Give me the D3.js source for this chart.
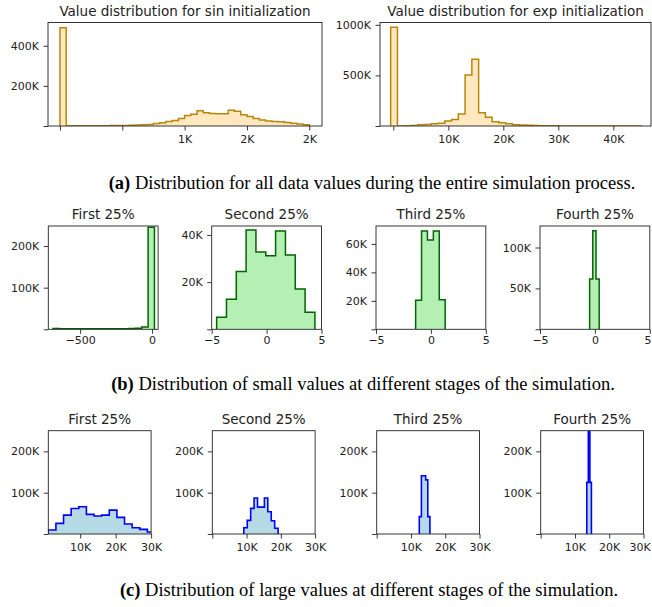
<!DOCTYPE html>
<html>
<head>
<meta charset="utf-8">
<script src="https://cdn.jsdelivr.net/npm/d3@7"></script>
<style>
  body { margin: 0; background: #fff; }
  svg text { font-family: "DejaVu Sans", sans-serif; fill: #222; }
  .caption { font-family: "Liberation Serif", serif; font-size: 18.5px; fill: #000; }
</style>
</head>
<body>
<svg id="fig" width="652" height="607"></svg>
<script>
// (a) all values over the whole run: bin start, bin width, counts
const sinStart = 0, sinWidth = 50;
const sinCounts = [490e3, 1e3, 1e3, 1e3, 1e3, 1e3, 1e3, 1e3, 2e3, 3e3, 3e3, 4e3, 5e3, 6e3, 8e3, 12e3,
  16e3, 22e3, 28e3, 38e3, 52e3, 58e3, 76e3, 66e3, 62e3, 61e3, 61e3, 78e3, 73e3, 56e3, 47e3, 38e3,
  30e3, 25e3, 23e3, 21e3, 17e3, 14e3, 10e3, 6e3];
const expStart = -480, expWidth = 1230;
const expCounts = [975e3, 1e3, 3e3, 6e3, 12e3, 16e3, 22e3, 28e3, 50e3, 65e3, 118e3, 505e3, 660e3,
  132e3, 86e3, 43e3, 33e3, 23e3, 13e3, 10e3, 7e3, 6e3, 3e3, 2e3, 2e3, 1e3, 1e3, 1e3, 1e3, 1e3,
  1e3, 1e3, 1e3, 1e3, 1e3, 1e3, 1e3];

// (b) small values, per quarter of the run
const stages = ["First 25%", "Second 25%", "Third 25%", "Fourth 25%"];
const smallStart = [-689, -4.55, -1.39, -0.48];
const smallWidth = [44.1, 0.895, 0.538, 0.29];
const smallCounts = [
  [2e3, 1.5e3, 1.5e3, 1.5e3, 1.5e3, 1.5e3, 1.5e3, 1.5e3, 1.5e3, 1.5e3, 1.5e3, 1.5e3, 2e3, 2.5e3, 5.5e3, 245e3],
  [5.1e3, 12.7e3, 24.5e3, 42.1e3, 32.8e3, 31.2e3, 41.7e3, 31.5e3, 17.1e3, 7.2e3],
  [20.5e3, 69e3, 62.8e3, 69e3, 20.7e3],
  [61.5e3, 120.6e3, 61.5e3]
];
const smallXlim = [[-721, 42], [-5, 5], [-5, 5], [-5, 5]];
const smallYmax = [248e3, 43.8e3, 72.6e3, 126.3e3];
const smallXticks = [[-500, 0], [-5, 0, 5], [-5, 0, 5], [-5, 0, 5]];
const smallYticks = [[0, 100e3, 200e3], [0, 20e3, 40e3], [0, 20e3, 40e3, 60e3], [0, 50e3, 100e3]];

// (c) large values, per quarter of the run
const largeStart = [1000, 9200, 12430, 13450];
const largeWidth = [2150, 1000, 620, 450];
const largeCounts = [
  [9.6e3, 25.7e3, 45.8e3, 61.8e3, 65.9e3, 47.4e3, 43.4e3, 45.8e3, 57.8e3, 40.2e3, 24.1e3, 15.3e3, 11.2e3, 4.8e3],
  [15e3, 33e3, 62e3, 87e3, 65e3, 65e3, 87e3, 54e3, 32e3, 14e3],
  [42e3, 141e3, 141e3, 131e3, 42e3],
  [125e3, 400e3, 125e3]
];
const largeXlim = [[1000, 30000], [0, 30000], [0, 30000], [0, 30000]];
const largeXticks = [0, 10e3, 20e3, 30e3];
const largeYticks = [0, 100e3, 200e3];

const captions = [
  ["(a)", " Distribution for all data values during the entire simulation process."],
  ["(b)", " Distribution of small values at different stages of the simulation."],
  ["(c)", " Distribution of large values at different stages of the simulation."]
];

const svg = d3.select("#fig");
svg.append("rect").attr("width", 652).attr("height", 607).attr("fill", "#fff");

const kfmt = v => v >= 1000 ? Math.round(v / 1000) + "K" : "";
const nfmt = d3.format("d");
let clipN = 0;

function panel(box, o) {
  const x = d3.scaleLinear().domain(o.xlim).range([box.x, box.x + box.w]);
  const y = d3.scaleLinear().domain([0, o.ymax]).range([box.y + box.h, box.y]);

  const id = "clip" + (clipN++);
  svg.append("clipPath").attr("id", id).append("rect")
    .attr("x", box.x).attr("y", box.y).attr("width", box.w).attr("height", box.h);

  const n = o.counts.length;
  const bins = o.counts.map((c, i) => ({ x: o.start + i * o.width, c: c }));
  bins.push({ x: o.start + n * o.width, c: o.counts[n - 1] });
  const outline = [{ x: bins[0].x, c: 0 }].concat(bins, [{ x: bins[n].x, c: 0 }]);

  const g = svg.append("g").attr("clip-path", `url(#${id})`);
  g.append("path").datum(bins)
    .attr("d", d3.area().curve(d3.curveStepAfter).x(d => x(d.x)).y0(y(0)).y1(d => y(d.c)))
    .attr("fill", o.fill);
  g.append("path").datum(outline)
    .attr("d", d3.line().curve(d3.curveStepAfter).x(d => x(d.x)).y(d => y(d.c)))
    .attr("fill", "none").attr("stroke", o.stroke).attr("stroke-width", o.lw)
    .attr("stroke-linejoin", "miter");

  const inX = o.xticks.filter(v => v >= o.xlim[0] && v <= o.xlim[1]);
  const ax = svg.append("g").attr("transform", `translate(0,${box.y + box.h})`)
    .call(d3.axisBottom(x).tickValues(inX).tickFormat(o.xfmt).tickSize(4.5).tickPadding(o.xpad));
  const ay = svg.append("g").attr("transform", `translate(${box.x},0)`)
    .call(d3.axisLeft(y).tickValues(o.yticks).tickFormat(kfmt).tickSize(4.5).tickPadding(4.5));
  [ax, ay].forEach(a => {
    a.select(".domain").remove();
    a.selectAll("line").attr("stroke", "#222").attr("stroke-width", 0.9);
    a.selectAll("text").attr("font-size", 11).attr("fill", "#222")
      .attr("font-family", "DejaVu Sans, sans-serif");
  });
  // keep labels at the right edge of the figure inside the page
  ax.selectAll("text").each(function () {
    const b = this.getBBox();
    const right = x(d3.select(this.parentNode).datum()) + b.x + b.width;
    if (right > 651) d3.select(this).attr("x", 651 - right);
  });

  svg.append("rect")
    .attr("x", box.x).attr("y", box.y).attr("width", box.w).attr("height", box.h)
    .attr("fill", "none").attr("stroke", "#222").attr("stroke-width", 0.9);

  svg.append("text")
    .attr("x", box.x + box.w / 2).attr("y", box.y - 6.6)
    .attr("text-anchor", "middle").attr("font-size", 13.5)
    .text(o.title);
}

// row (a)
const orange = { fill: "#ffe8bf", stroke: "#b8860b", lw: 1.5 };
panel({ x: 48, y: 22.5, w: 274, h: 103.5 }, Object.assign({
  title: "Value distribution for sin initialization",
  start: sinStart, width: sinWidth, counts: sinCounts,
  xlim: [-96, 2102], ymax: 516e3,
  xticks: [0, 500, 1000, 1500, 2000], yticks: [0, 200e3, 400e3],
  xfmt: kfmt, xpad: 5
}, orange));
panel({ x: 380, y: 22.5, w: 271, h: 103.5 }, Object.assign({
  title: "Value distribution for exp initialization",
  start: expStart, width: expWidth, counts: expCounts,
  xlim: [-2420, 46850], ymax: 1023e3,
  xticks: [0, 10e3, 20e3, 30e3, 40e3], yticks: [0, 500e3, 1000e3],
  xfmt: kfmt, xpad: 5
}, orange));

// row (b)
const rowBx = [48.3, 211.7, 376, 540];
stages.forEach((t, i) => {
  panel({ x: rowBx[i], y: 226, w: 109.8, h: 103.3 }, {
    title: t, start: smallStart[i], width: smallWidth[i], counts: smallCounts[i],
    xlim: smallXlim[i], ymax: smallYmax[i],
    xticks: smallXticks[i], yticks: smallYticks[i],
    xfmt: nfmt, xpad: 2,
    fill: "#b4f0b4", stroke: "#006400", lw: 1.5
  });
});

// row (c)
const rowCx = [48.3, 212.3, 376.7, 540.7];
stages.forEach((t, i) => {
  panel({ x: rowCx[i], y: 430.7, w: 102.8, h: 103.3 }, {
    title: t, start: largeStart[i], width: largeWidth[i], counts: largeCounts[i],
    xlim: largeXlim[i], ymax: 250e3,
    xticks: largeXticks, yticks: largeYticks,
    xfmt: kfmt, xpad: 5,
    fill: "#b6d9e6", stroke: "#0000ff", lw: 1.6
  });
});

// captions
const capY = [189, 390, 596];
const capX = [372, 363, 369];
captions.forEach((c, i) => {
  const t = svg.append("text").attr("class", "caption")
    .attr("x", capX[i]).attr("y", capY[i]).attr("text-anchor", "middle");
  t.append("tspan").attr("font-weight", "bold").text(c[0]);
  t.append("tspan").text(c[1]);
});
</script>
</body>
</html>
